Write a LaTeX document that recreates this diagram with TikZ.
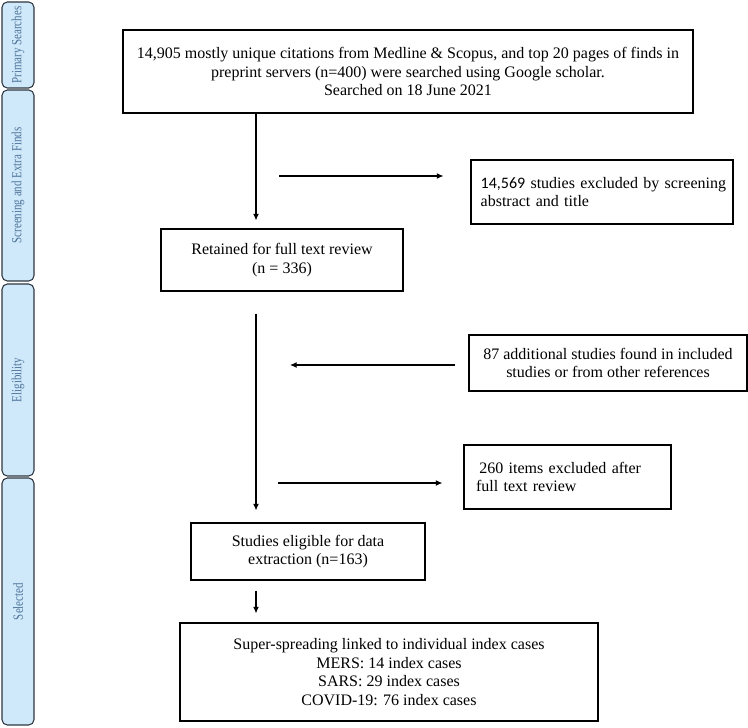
\documentclass[tikz,border=0pt]{standalone}
\usepackage{fontspec}
\setmainfont{Liberation Serif}
\newfontfamily\calibrifont{Carlito}
\usetikzlibrary{positioning}
\usetikzlibrary{arrows.meta}
\usepackage{xcolor}
\definecolor{barfill}{HTML}{CFE9FA}
\definecolor{bartext}{HTML}{4E739A}
\definecolor{barline}{HTML}{2E3640}

\begin{document}
\begin{tikzpicture}[x=0.75pt, y=-0.75pt, >={Latex[length=5pt,width=4.5pt]},
flowbox/.style={rectangle, draw=black, line width=0.8pt, fill=white, align=center, inner sep=0pt, font=\fontsize{12}{13.8}\selectfont},
leftbox/.style={flowbox, align=left, inner ysep=0pt},
sidebar/.style={rectangle, rounded corners=4pt, draw=barline, line width=0.8pt, fill=barfill, text=bartext, rotate=90, minimum height=24pt, inner sep=0pt, font=\fontsize{10.5}{12}\selectfont},
flowarrow/.style={->, line width=0.9pt}]
\useasboundingbox (0,0) rectangle (748,727);

\node[sidebar, minimum width=64.5pt] (primary) at (18,45) {\scalebox{0.78}[1]{Primary Searches}};
\node[sidebar, minimum width=143.25pt] (screening) at (18,185.5) {\scalebox{0.78}[1]{Screening and Extra Finds}};
\node[sidebar, minimum width=144pt] (eligibility) at (18,380) {\scalebox{0.78}[1]{Eligibility}};
\node[sidebar, minimum width=185.25pt] (selected) at (18,601.5) {\scalebox{0.78}[1]{Selected}};

\node[flowbox, minimum width=427.5pt, minimum height=62.25pt] (top) at (408,71.5) {14,905 mostly unique citations from Medline \& Scopus, and top 20 pages of finds in\\preprint servers (n=400) were searched using Google scholar.\\Searched on 18 June 2021};
\node[flowbox, minimum width=181.5pt, minimum height=46.5pt] (retained) at (282,260) {Retained for full text review\\(n = 336)};
\node[leftbox, text width=182pt, inner xsep=7.25pt, minimum height=48pt] (excl1) at (602,192) {\mbox{{\calibrifont 14,569} studies excluded by screening}\\abstract and title};
\node[flowbox, minimum width=208.5pt, minimum height=42pt] (extra) at (608,363) {87 additional studies found in included\\studies or from other references};
\node[leftbox, text width=137.25pt, inner xsep=9pt, minimum height=48pt] (excl2) at (567.5,477) {\hspace*{2.5pt}260 items excluded after\\full text review};
\node[flowbox, minimum width=175.5pt, minimum height=42.75pt] (studies) at (308,551.5) {Studies eligible for data\\extraction (n=163)};
\node[flowbox, minimum width=313.5pt, minimum height=73.5pt] (final) at (389,672) {Super-spreading linked to individual index cases\\MERS: 14 index cases\\SARS: 29 index cases\\COVID-19: 76 index cases};

\coordinate (spine) at (256,0);
\coordinate (cut1) at (279,176);
\coordinate (add1) at (290,365);
\coordinate (cut2) at (278,483);

\draw[flowarrow, shorten >=6pt] (spine |- top.south) -- (spine |- retained.north);
\draw[flowarrow, shorten <=16.5pt, shorten >=9pt] (spine |- retained.south) -- (spine |- studies.north);
\draw[flowarrow, shorten <=7.5pt, shorten >=6.75pt] (spine |- studies.south) -- (spine |- final.north);
\draw[flowarrow, shorten >=20.25pt] (cut1) -- (cut1 -| excl1.west);
\draw[flowarrow, shorten <=9.75pt] (add1 -| extra.west) -- (add1);
\draw[flowarrow, shorten >=15.75pt] (cut2) -- (cut2 -| excl2.west);
\end{tikzpicture}
\end{document}
